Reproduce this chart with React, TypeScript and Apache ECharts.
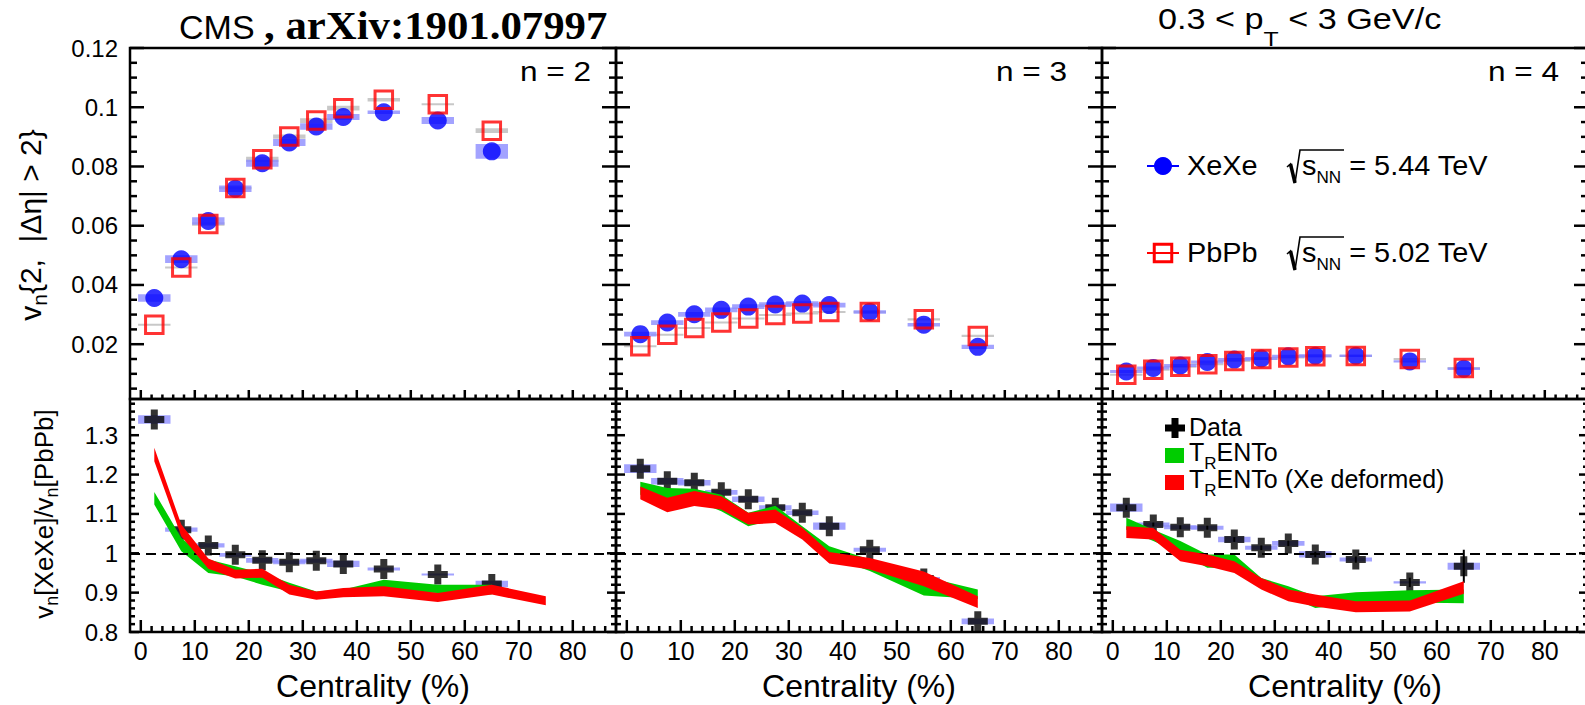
import React, { useEffect, useRef } from 'react';
import * as echarts from 'echarts';

// ---------------------------------------------------------------------------
// Data
// ---------------------------------------------------------------------------

// Centrality bin centres (%)
const centrality = [2.5, 7.5, 12.5, 17.5, 22.5, 27.5, 32.5, 37.5, 45, 55, 65];
const centralityModelN2 = [2.5, 7.5, 12.5, 17.5, 22.5, 27.5, 32.5, 37.5, 45, 55, 65, 75];

// v_n{2, |Δη| > 2} in XeXe, sqrt(sNN) = 5.44 TeV
const xexeV2 = [0.0356, 0.0487, 0.0616, 0.0725, 0.0811, 0.0881, 0.0935, 0.0967, 0.0983, 0.0955, 0.0851];
const xexeV3 = [0.0234, 0.0273, 0.0301, 0.0316, 0.0327, 0.0334, 0.0337, 0.0332, 0.0309, 0.0266, 0.0191];
const xexeV4 = [0.0108, 0.012, 0.0128, 0.014, 0.0148, 0.0152, 0.0159, 0.0161, 0.0161, 0.0142, 0.0117];
const xexeV2Sys = [0.0013, 0.0013, 0.0013, 0.0011, 0.0012, 0.0012, 0.0011, 0.001, 0.0006, 0.0012, 0.0025];
const xexeV3Sys = [0.0008, 0.0008, 0.0008, 0.0008, 0.0008, 0.0008, 0.0008, 0.0008, 0.0006, 0.0006, 0.0007];
const xexeV4Sys = [0.0005, 0.0005, 0.0005, 0.0005, 0.0005, 0.0005, 0.0005, 0.0005, 0.0004, 0.0004, 0.0004];

// v_n{2, |Δη| > 2} in PbPb, sqrt(sNN) = 5.02 TeV
const pbpbV2 = [0.0266, 0.0459, 0.0606, 0.0727, 0.0824, 0.0901, 0.0955, 0.0997, 0.1025, 0.101, 0.0921];
const pbpbV3 = [0.0193, 0.0232, 0.0255, 0.0273, 0.0287, 0.0299, 0.0304, 0.0309, 0.0309, 0.0284, 0.0228];
const pbpbV4 = [0.0097, 0.0114, 0.0124, 0.0132, 0.0143, 0.015, 0.0155, 0.0159, 0.016, 0.015, 0.012];
const pbpbV2Sys = [0.0003, 0.0003, 0.0006, 0.0004, 0.0009, 0.0007, 0.0008, 0.0008, 0.0006, 0.0003, 0.0008];
const pbpbV3Sys = [0.0003, 0.0003, 0.0003, 0.0003, 0.0003, 0.0003, 0.0003, 0.0003, 0.0003, 0.0004, 0.0004];
const pbpbV4Sys = [0.0003, 0.0003, 0.0003, 0.0003, 0.0003, 0.0003, 0.0003, 0.0003, 0.0003, 0.0003, 0.0003];

// v_n[XeXe] / v_n[PbPb]
const ratioV2 = [1.34, 1.06, 1.02, 0.996, 0.982, 0.977, 0.981, 0.973, 0.96, 0.946, 0.922];
const ratioV3 = [1.215, 1.183, 1.179, 1.155, 1.137, 1.116, 1.103, 1.069, 1.009, 0.936, 0.827];
const ratioV4 = [1.116, 1.073, 1.066, 1.065, 1.035, 1.014, 1.025, 0.997, 0.984, 0.926, 0.967];
const ratioV2Sys = [0.011, 0.0055, 0.0055, 0.005, 0.006, 0.005, 0.005, 0.008, 0.004, 0.002, 0.0085];
const ratioV3Sys = [0.011, 0.008, 0.007, 0.006, 0.007, 0.006, 0.006, 0.009, 0.005, 0.004, 0.007];
const ratioV4Sys = [0.0105, 0.0055, 0.005, 0.005, 0.007, 0.005, 0.006, 0.008, 0.005, 0.003, 0.009];
const ratioV4Stat = [0.006, 0.005, 0.005, 0.005, 0.006, 0.006, 0.007, 0.007, 0.008, 0.012, 0.042];

// TRENTo bands (lower / upper edge)
const trentoV2Lo = [1.124, 1.005, 0.95, 0.941, 0.92, 0.903, 0.887, 0.891, 0.903, 0.899, 0.895];
const trentoV2Hi = [1.156, 1.039, 0.984, 0.967, 0.95, 0.925, 0.903, 0.908, 0.933, 0.92, 0.92];
const trentoV3Lo = [1.149, 1.128, 1.134, 1.107, 1.069, 1.086, 1.039, 0.992, 0.955, 0.893, 0.884];
const trentoV3Hi = [1.182, 1.166, 1.164, 1.149, 1.103, 1.121, 1.069, 1.018, 0.984, 0.941, 0.908];
const trentoV4Lo = [1.06, 1.031, 1.001, 0.963, 0.963, 0.912, 0.891, 0.861, 0.873, 0.875, 0.873];
const trentoV4Hi = [1.09, 1.06, 1.031, 0.997, 0.997, 0.937, 0.916, 0.891, 0.901, 0.906, 0.908];

// TRENTo with deformed Xe
const deformedV2Lo = [1.234, 1.043, 0.961, 0.936, 0.938, 0.895, 0.882, 0.888, 0.891, 0.876, 0.895, 0.868];
const deformedV2Hi = [1.268, 1.073, 0.987, 0.958, 0.961, 0.92, 0.903, 0.912, 0.916, 0.899, 0.92, 0.891];
const deformedV3Lo = [1.137, 1.104, 1.12, 1.111, 1.073, 1.077, 1.035, 0.974, 0.959, 0.916, 0.861];
const deformedV3Hi = [1.17, 1.141, 1.158, 1.145, 1.103, 1.111, 1.065, 1.003, 0.988, 0.954, 0.891];
const deformedV4Lo = [1.039, 1.035, 0.98, 0.967, 0.95, 0.908, 0.878, 0.865, 0.85, 0.852, 0.897];
const deformedV4Hi = [1.069, 1.064, 1.009, 0.997, 0.98, 0.937, 0.908, 0.895, 0.878, 0.88, 0.929];

// Tick labels
const centralityTicks = [0, 10, 20, 30, 40, 50, 60, 70, 80];
const vnTicks = [0.02, 0.04, 0.06, 0.08, 0.1, 0.12];
const ratioTicks = [0.8, 0.9, 1, 1.1, 1.2, 1.3];

// ---------------------------------------------------------------------------
// Layout and style
// ---------------------------------------------------------------------------

const W = 1585;
const H = 705;
const FONT = '"Liberation Sans", Arial, Helvetica, sans-serif';
const SERIF = '"Liberation Serif", "Times New Roman", serif';

const PANEL_LEFT = [130, 616, 1102];
const PANEL_W = 486;
const TOP_ROW = { top: 48, height: 351 };
const BOTTOM_ROW = { top: 399, height: 233 };

const X_MIN = -2;
const X_MAX = 88;
const V_MIN = 0.0015;
const V_MAX = 0.12;
const R_MIN = 0.8;
const R_MAX = 1.392;

const BOX_HALF = 3; // half width of the systematic boxes, in centrality units
const SYS_BLUE = 'rgba(140,140,255,0.8)';
const SYS_GREY = '#c8c8c8';
const GREEN = '#00cc00';
const RED = '#ff0000';
const TICK_W = 2.5;

const round = (v: number, d: number) => Math.round(v * 10 ** d) / 10 ** d;

// minor tick positions
const xMinor: number[] = [];
for (let i = 1; i <= 43; i++) if ((2 * i) % 10 !== 0) xMinor.push(2 * i);
const vnMinor: number[] = [];
for (let k = 1; k <= 23; k++) if (k % 4 !== 0) vnMinor.push(round(k * 0.005, 4));
const ratioMinor: number[] = [];
for (let k = 1; k <= 29; k++) if (k % 5 !== 0) ratioMinor.push(round(0.8 + k * 0.02, 3));

const fmt = (v: number) => String(round(v, 3));

function xAxisFor(grid: number, showLabels: boolean) {
  return {
    type: 'value', gridIndex: grid, min: X_MIN, max: X_MAX, position: 'bottom',
    axisLine: { show: false }, splitLine: { show: false }, axisTick: { show: false },
    axisLabel: {
      show: showLabels, customValues: centralityTicks, color: '#000', fontSize: 25,
      fontFamily: FONT, margin: 6, formatter: fmt,
    },
  };
}

function yAxisFor(grid: number, min: number, max: number, labels: number[], showLabels: boolean) {
  return {
    type: 'value', gridIndex: grid, min, max, position: 'left',
    axisLine: { show: false }, splitLine: { show: false }, axisTick: { show: false },
    axisLabel: {
      show: showLabels, customValues: labels, color: '#000', fontSize: 24,
      fontFamily: FONT, margin: 12, formatter: fmt,
    },
  };
}

// Tick marks drawn inwards from a frame edge: 'b' bottom, 'l' left, 'r' right.
function ticks(gi: number, edge: string, values: number[], len: number, yMin: number) {
  return {
    type: 'custom', xAxisIndex: gi, yAxisIndex: gi, z: 6, silent: true, clip: false,
    data: values.map((v) => (edge === 'b' ? [v, yMin] : [edge === 'l' ? X_MIN : X_MAX, v])),
    encode: { x: 0, y: 1 },
    renderItem: (_p: any, api: any) => {
      const p = api.coord([api.value(0), api.value(1)]);
      let x2 = p[0];
      let y2 = p[1];
      if (edge === 'b') y2 -= len;
      else if (edge === 'l') x2 += len;
      else x2 -= len;
      return {
        type: 'line', shape: { x1: p[0], y1: p[1], x2, y2 },
        style: { stroke: '#000', lineWidth: TICK_W },
      };
    },
  };
}

function sysBoxes(gi: number, vals: number[], errs: number[], color: string, z: number) {
  return {
    type: 'custom', xAxisIndex: gi, yAxisIndex: gi, z, silent: true,
    data: centrality.map((c, i) => [c, vals[i], errs[i]]),
    encode: { x: 0, y: 1 },
    renderItem: (_p: any, api: any) => {
      const x = api.value(0);
      const y = api.value(1);
      const e = api.value(2);
      const a = api.coord([x - BOX_HALF, y + e]);
      const b = api.coord([x + BOX_HALF, y - e]);
      const h = Math.max(b[1] - a[1], 2);
      return {
        type: 'rect',
        shape: { x: a[0], y: (a[1] + b[1]) / 2 - h / 2, width: b[0] - a[0], height: h },
        style: { fill: color },
      };
    },
  };
}

function band(gi: number, xs: number[], lo: number[], hi: number[], color: string, z: number) {
  return {
    type: 'custom', xAxisIndex: gi, yAxisIndex: gi, z, silent: true,
    data: xs.map((x, i) => [x, lo[i], hi[i]]),
    encode: { x: 0, y: [1, 2] },
    renderItem: (p: any, api: any) => {
      if (p.dataIndex !== 0) return null;
      const upper = xs.map((x, i) => api.coord([x, hi[i]]));
      const lower = xs.map((x, i) => api.coord([x, lo[i]])).reverse();
      return { type: 'polygon', shape: { points: upper.concat(lower) }, style: { fill: color } };
    },
  };
}

function errorBars(gi: number, vals: number[], errs: number[], z: number) {
  return {
    type: 'custom', xAxisIndex: gi, yAxisIndex: gi, z, silent: true,
    data: centrality.map((c, i) => [c, vals[i], errs[i]]),
    encode: { x: 0, y: 1 },
    renderItem: (_p: any, api: any) => {
      const x = api.value(0);
      const y = api.value(1);
      const e = api.value(2);
      const a = api.coord([x, y + e]);
      const b = api.coord([x, y - e]);
      return { type: 'line', shape: { x1: a[0], y1: a[1], x2: b[0], y2: b[1] }, style: { stroke: '#000', lineWidth: 2 } };
    },
  };
}

const CROSS = 'path://M6.5,0H13.5V6.5H20V13.5H13.5V20H6.5V13.5H0V6.5H6.5Z';

type TextOpt = {
  size: number; align?: string; vAlign?: string; scaleX?: number; rotation?: number;
  family?: string; weight?: string; sub?: { size: number; offset: number };
};

function textEl(x: number, y: number, text: string, o: TextOpt) {
  const lh = o.sub ? Math.max(2 * o.sub.offset + o.sub.size, o.size) : Math.round(o.size * 1.2);
  const align = o.align || 'left';
  const vAlign = o.vAlign || 'middle';
  const style: any = {
    text, fill: '#000', fontSize: o.size, fontFamily: o.family || FONT, fontWeight: o.weight || 'normal',
    lineHeight: lh, align, verticalAlign: vAlign, textAlign: align, textVerticalAlign: vAlign,
  };
  if (o.sub) {
    style.rich = {
      sub: {
        fontSize: o.sub.size, fontFamily: o.family || FONT, lineHeight: o.sub.size,
        verticalAlign: 'bottom', fill: '#000',
      },
    };
  }
  return {
    type: 'text', x, y, rotation: o.rotation || 0, scaleX: o.scaleX || 1, z: 100, silent: true, style,
  };
}

function buildOption() {
  const grids: any[] = [];
  const xAxis: any[] = [];
  const yAxis: any[] = [];
  const series: any[] = [];

  const top = [
    { xexe: xexeV2, xexeSys: xexeV2Sys, pbpb: pbpbV2, pbpbSys: pbpbV2Sys },
    { xexe: xexeV3, xexeSys: xexeV3Sys, pbpb: pbpbV3, pbpbSys: pbpbV3Sys },
    { xexe: xexeV4, xexeSys: xexeV4Sys, pbpb: pbpbV4, pbpbSys: pbpbV4Sys },
  ];
  const bottom = [
    { ratio: ratioV2, sys: ratioV2Sys, stat: null as number[] | null, tx: centrality, tLo: trentoV2Lo, tHi: trentoV2Hi, dx: centralityModelN2, dLo: deformedV2Lo, dHi: deformedV2Hi },
    { ratio: ratioV3, sys: ratioV3Sys, stat: null as number[] | null, tx: centrality, tLo: trentoV3Lo, tHi: trentoV3Hi, dx: centrality, dLo: deformedV3Lo, dHi: deformedV3Hi },
    { ratio: ratioV4, sys: ratioV4Sys, stat: ratioV4Stat, tx: centrality, tLo: trentoV4Lo, tHi: trentoV4Hi, dx: centrality, dLo: deformedV4Lo, dHi: deformedV4Hi },
  ];

  for (let row = 0; row < 2; row++) {
    for (let col = 0; col < 3; col++) {
      const g = row * 3 + col;
      const r = row === 0 ? TOP_ROW : BOTTOM_ROW;
      grids.push({
        left: PANEL_LEFT[col], top: r.top, width: PANEL_W, height: r.height,
        show: true, borderColor: '#000', borderWidth: 2.5, backgroundColor: 'rgba(0,0,0,0)',
        containLabel: false, outerBoundsMode: 'none',
      });

      if (row === 0) {
        xAxis.push(xAxisFor(g, false));
        yAxis.push(yAxisFor(g, V_MIN, V_MAX, vnTicks, col === 0));
        series.push(ticks(g, 'b', centralityTicks, 9, V_MIN));
        series.push(ticks(g, 'b', xMinor, 4.5, V_MIN));
        series.push(ticks(g, 'l', vnTicks, 14, V_MIN));
        series.push(ticks(g, 'l', vnMinor, 7, V_MIN));
        series.push(ticks(g, 'r', vnTicks, 14, V_MIN));
        series.push(ticks(g, 'r', vnMinor, 7, V_MIN));

        const d = top[col];
        series.push(sysBoxes(g, d.pbpb, d.pbpbSys, SYS_GREY, 1));
        series.push(sysBoxes(g, d.xexe, d.xexeSys, SYS_BLUE, 2));
        series.push({
          type: 'scatter', name: 'XeXe', xAxisIndex: g, yAxisIndex: g, z: 3, silent: true,
          data: centrality.map((c, i) => [c, d.xexe[i]]),
          symbol: 'circle', symbolSize: 18, itemStyle: { color: '#0000ff' },
        });
        series.push({
          type: 'scatter', name: 'PbPb', xAxisIndex: g, yAxisIndex: g, z: 4, silent: true,
          data: centrality.map((c, i) => [c, d.pbpb[i]]),
          symbol: 'rect', symbolSize: 17.5,
          itemStyle: { color: 'rgba(0,0,0,0)', borderColor: RED, borderWidth: 3 },
        });
      } else {
        xAxis.push(xAxisFor(g, true));
        yAxis.push(yAxisFor(g, R_MIN, R_MAX, ratioTicks, col === 0));
        series.push(ticks(g, 'b', centralityTicks, 12, R_MIN));
        series.push(ticks(g, 'b', xMinor, 6, R_MIN));
        series.push(ticks(g, 'l', ratioTicks, 9, R_MIN));
        series.push(ticks(g, 'l', ratioMinor, 5, R_MIN));
        series.push(ticks(g, 'r', ratioTicks, 9, R_MIN));
        series.push(ticks(g, 'r', ratioMinor, 5, R_MIN));

        const d = bottom[col];
        series.push(sysBoxes(g, d.ratio, d.sys, SYS_BLUE, 2));
        if (d.stat) series.push(errorBars(g, d.ratio, d.stat, 3));
        series.push({
          type: 'scatter', name: 'Data', xAxisIndex: g, yAxisIndex: g, z: 3, silent: true,
          data: centrality.map((c, i) => [c, d.ratio[i]]),
          symbol: CROSS, symbolSize: 20, itemStyle: { color: '#000' },
          markLine: {
            silent: true, symbol: 'none', animation: false, label: { show: false },
            lineStyle: { color: '#000', width: 2, type: [10, 6] },
            data: [{ yAxis: 1 }],
          },
        });
        series.push(band(g, d.tx, d.tLo, d.tHi, GREEN, 4));
        series.push(band(g, d.dx, d.dLo, d.dHi, RED, 5));
      }
    }
  }

  const graphic: any[] = [];
  // header
  graphic.push(textEl(179, 27, 'CMS', { size: 34 }));
  graphic.push(textEl(264, 25.5, ', arXiv:1901.07997', { size: 40, scaleX: 1.07, family: SERIF, weight: 'bold' }));
  graphic.push(textEl(1158, 18.8, '0.3 < p{sub|T} < 3 GeV/c', { size: 29, scaleX: 1.18, sub: { size: 21, offset: 20 } }));

  // panel labels
  graphic.push(textEl(591, 71.5, 'n = 2', { size: 27, scaleX: 1.17, align: 'right' }));
  graphic.push(textEl(1067, 71.5, 'n = 3', { size: 27, scaleX: 1.17, align: 'right' }));
  graphic.push(textEl(1559, 71.5, 'n = 4', { size: 27, scaleX: 1.17, align: 'right' }));

  // axis titles
  graphic.push(textEl(30, 225, 'v{sub|n}{2,  |Δη| > 2}', { size: 30, rotation: Math.PI / 2, align: 'center', sub: { size: 21, offset: 9 } }));
  graphic.push(textEl(44, 514, 'v{sub|n}[XeXe]/v{sub|n}[PbPb]', { size: 26, rotation: Math.PI / 2, align: 'center', sub: { size: 18, offset: 8 } }));
  for (let c = 0; c < 3; c++) {
    graphic.push(textEl(PANEL_LEFT[c] + PANEL_W / 2, 686, 'Centrality (%)', { size: 32, align: 'center' }));
  }

  // legend: collision systems
  const legendRows = [
    { cy: 166, name: 'XeXe', energy: ' = 5.44 TeV', kind: 'circle' },
    { cy: 253, name: 'PbPb', energy: ' = 5.02 TeV', kind: 'square' },
  ];
  for (const r of legendRows) {
    if (r.kind === 'circle') {
      graphic.push({ type: 'line', z: 100, silent: true, shape: { x1: 1147, y1: r.cy, x2: 1179, y2: r.cy }, style: { stroke: '#0000ff', lineWidth: 2 } });
      graphic.push({ type: 'circle', z: 101, silent: true, shape: { cx: 1163, cy: r.cy, r: 9 }, style: { fill: '#0000ff' } });
    } else {
      graphic.push({ type: 'line', z: 100, silent: true, shape: { x1: 1147, y1: r.cy, x2: 1179, y2: r.cy }, style: { stroke: RED, lineWidth: 2 } });
      graphic.push({ type: 'rect', z: 101, silent: true, shape: { x: 1163 - 8.75, y: r.cy - 8.75, width: 17.5, height: 17.5 }, style: { fill: 'none', stroke: RED, lineWidth: 3 } });
    }
    graphic.push(textEl(1187, r.cy, r.name, { size: 27, scaleX: 1.07 }));
    graphic.push({
      type: 'polyline', z: 100, silent: true,
      shape: { points: [[1287, r.cy + 1], [1290.5, r.cy - 2], [1295, r.cy + 17], [1300, r.cy - 16], [1344, r.cy - 16]] },
      style: { stroke: '#000', lineWidth: 1.6, fill: 'none' },
    });
    graphic.push({ type: 'line', z: 100, silent: true, shape: { x1: 1290.5, y1: r.cy - 2, x2: 1295, y2: r.cy + 17 }, style: { stroke: '#000', lineWidth: 3.5 } });
    graphic.push(textEl(1302, r.cy, 's{sub|NN}' + r.energy, { size: 27, scaleX: 1.07, sub: { size: 16, offset: 12 } }));
  }

  // legend: ratio panel
  graphic.push({ type: 'rect', z: 100, silent: true, shape: { x: 1165, y: 424.5, width: 20, height: 7 }, style: { fill: '#000' } });
  graphic.push({ type: 'rect', z: 100, silent: true, shape: { x: 1171.5, y: 418, width: 7, height: 20 }, style: { fill: '#000' } });
  graphic.push(textEl(1189, 427, 'Data', { size: 25 }));
  graphic.push({ type: 'rect', z: 100, silent: true, shape: { x: 1165, y: 448, width: 19, height: 15 }, style: { fill: GREEN } });
  graphic.push(textEl(1189, 452, 'T{sub|R}ENTo', { size: 25, sub: { size: 17, offset: 11 } }));
  graphic.push({ type: 'rect', z: 100, silent: true, shape: { x: 1165, y: 475, width: 19, height: 15 }, style: { fill: RED } });
  graphic.push(textEl(1189, 479, 'T{sub|R}ENTo (Xe deformed)', { size: 25, sub: { size: 17, offset: 11 } }));

  return {
    animation: false,
    backgroundColor: '#fff',
    grid: grids,
    xAxis,
    yAxis,
    series,
    graphic,
  };
}

export default function App() {
  const ref = useRef<HTMLDivElement>(null);
  useEffect(() => {
    if (!ref.current) return;
    const chart = echarts.init(ref.current, null, { renderer: 'svg' });
    chart.setOption(buildOption() as any);
    return () => chart.dispose();
  }, []);
  return (
    <div
      ref={ref}
      style={{ position: 'fixed', left: 0, top: 0, width: W, height: H, background: '#fff' }}
    />
  );
}
